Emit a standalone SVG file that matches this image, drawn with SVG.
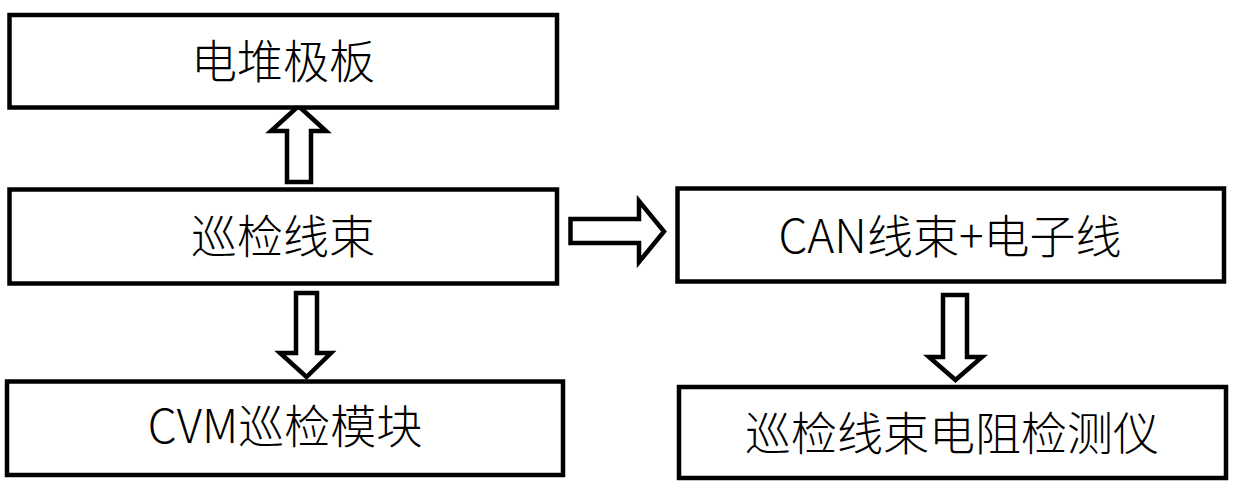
<svg xmlns="http://www.w3.org/2000/svg" width="1240" height="494" viewBox="0 0 1240 494">
<style>
.box{fill:#fff;stroke:#000;stroke-width:4.5}
.arr{fill:#fff;stroke:#000;stroke-width:4.5;stroke-linejoin:miter;stroke-miterlimit:10}
.lbl{font-family:"Noto Sans CJK SC","Noto Sans",sans-serif;font-size:46px;font-weight:300;fill:#000;text-anchor:middle}
</style>
<rect width="1240" height="494" fill="#fff"/>
<g id="connectors">
<polygon class="arr" points="298.5,106 326,131 311,131 311,182 287,182 287,131 271,131"/>
<polygon class="arr" points="570.5,219 639,219 639,201 664,231.5 639,262 639,243 570.5,243"/>
<polygon class="arr" points="296,293 317,293 317,353 331,353 306.5,377 280,353 296,353"/>
<polygon class="arr" points="943,295 967,295 967,357 982,357 955.5,380 929,357 943,357"/>
</g>
<g id="node1">
<rect class="box" x="9.5" y="15" width="547.5" height="92.5"/>
<text class="lbl" x="283" y="78">电堆极板</text>
</g>
<g id="node2">
<rect class="box" x="9.5" y="189.5" width="547.5" height="94"/>
<text class="lbl" x="283" y="253">巡检线束</text>
</g>
<g id="node3">
<rect class="box" x="677.5" y="188.5" width="546.5" height="93"/>
<text class="lbl" x="950" y="253">CAN线束+电子线</text>
</g>
<g id="node4">
<rect class="box" x="679" y="387" width="547" height="91"/>
<text class="lbl" x="952" y="450">巡检线束电阻检测仪</text>
</g>
<g id="node5">
<rect class="box" x="7" y="381.5" width="556" height="93.5"/>
<text class="lbl" x="285" y="443">CVM巡检模块</text>
</g>
</svg>
